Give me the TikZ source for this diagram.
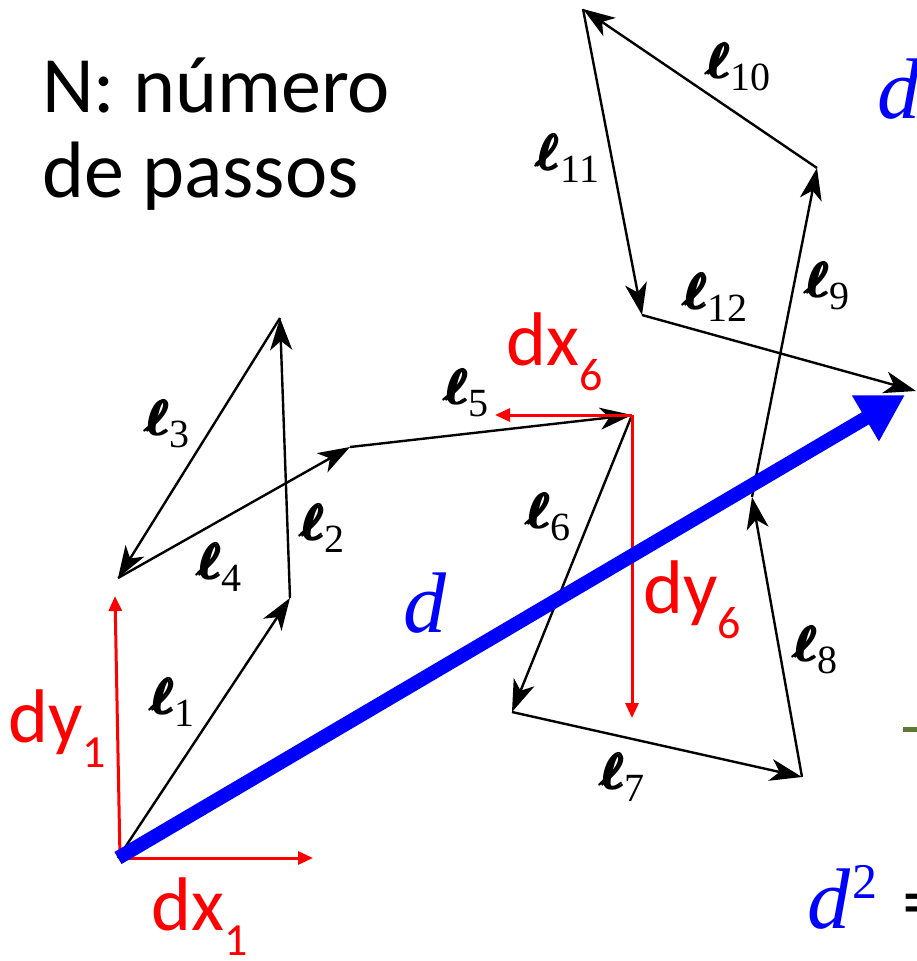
\documentclass[tikz,border=0pt]{standalone}
\usepackage{fontspec}
\usepackage{amsmath}
\usepackage{graphicx}
\usetikzlibrary{arrows.meta}
\newfontfamily\carlito{Carlito}
\newfontfamily\tms{Liberation Serif}
\definecolor{olivedash}{RGB}{95,120,55}
\newcommand{\ellab}[1]{\scalebox{5}{$\pmb{\boldsymbol{\ell}}$\raisebox{-2.4pt}{\tms\fontsize{8}{8}\selectfont #1}}}
\newcommand{\redsub}[2]{#1\raisebox{-25pt}{\fontsize{46}{46}\selectfont #2}}
\begin{document}
\begin{tikzpicture}[x=1pt,y=-1pt,
  blk/.style={line width=2.4pt, -{Stealth[length=32pt,width=22pt,inset=9pt]}},
  redarr/.style={red, line width=3pt, -{Triangle[length=15pt,width=13pt]}},
  bluearr/.style={blue, line width=14pt, -{Triangle[length=46pt,width=50pt]}},
  lbl/.style={inner sep=0pt},
  txt/.style={inner sep=0pt, anchor=base west, font=\carlito\fontsize{80}{85}\selectfont},
  redtxt/.style={inner sep=0pt, anchor=base west, text=red, font=\carlito\fontsize{76}{80}\selectfont},
  bluetxt/.style={inner sep=0pt, anchor=base west, text=blue, font=\tms\itshape\fontsize{86}{90}\selectfont}]
\useasboundingbox (0,0) rectangle (917,961);
\clip (0,0) rectangle (917,961);
% walk points
\coordinate (p0) at (118,858);
\coordinate (p1) at (290,598);
\coordinate (p2) at (280,318);
\coordinate (p3) at (118,578);
\coordinate (p4) at (350,447);
\coordinate (p5) at (632,415);
\coordinate (p6) at (512,712);
\coordinate (p7) at (802,777);
\coordinate (p8) at (752,497);
\coordinate (p9) at (817,168);
\coordinate (p10) at (583,9);
\coordinate (p11) at (642,315);
\coordinate (p12) at (916,391);
% walk
\draw[blk] (p0) -- (p1);
\draw[blk] (p1) -- (p2);
\draw[blk] (p2) -- (p3);
\draw[blk] (p3) -- (p4);
\draw[blk] (p4) -- (p5);
\draw[blk] (p5) -- (p6);
\draw[blk] (p6) -- (p7);
\draw[blk] (p7) -- (p8);
\draw[blk] (p8) -- (p9);
\draw[blk] (p9) -- (p10);
\draw[blk] (p10) -- (p11);
\draw[blk] (p11) -- (p12);
% red components
\coordinate (r0) at (120,858);
\coordinate (dy1end) at (115,596);
\coordinate (dx1end) at (313,858);
\coordinate (r6) at (632,415);
\coordinate (dx6end) at (495,415);
\coordinate (dy6end) at (632,718);
\draw[redarr] (r0) -- (dy1end);
\draw[redarr] (r0) -- (dx1end);
\draw[redarr] (r6) -- (dx6end);
\draw[redarr] (r6) -- (dy6end);
% blue resultant
\coordinate (bend) at (905,395);
\draw[bluearr] (p0) -- (bend);
% step labels
\node[lbl] (l1) at (173,702) {\ellab{1}};
\node[lbl] (l2) at (323,528) {\ellab{2}};
\node[lbl] (l3) at (168,424) {\ellab{3}};
\node[lbl] (l4) at (220,567) {\ellab{4}};
\node[lbl] (l5) at (467,393) {\ellab{5}};
\node[lbl] (l6) at (549,517) {\ellab{6}};
\node[lbl] (l7) at (623,777) {\ellab{7}};
\node[lbl] (l8) at (816,650) {\ellab{8}};
\node[lbl] (l9) at (828,286) {\ellab{9}};
\node[lbl] (l10) at (739,67) {\ellab{10}};
\node[lbl] (l11) at (568,158) {\ellab{11}};
\node[lbl] (l12) at (716,297) {\ellab{12}};
% texts
\node[txt] (t1) at (42,112) {N: número};
\node[txt] (t2) at (42,197) {de passos};
\node[redtxt] (dx6) at (506,365) {\redsub{dx}{6}};
\node[redtxt] (dy1) at (8,742) {\redsub{dy}{1}};
\node[redtxt] (dx1) at (151,930) {\redsub{dx}{1}};
\node[redtxt] (dy6) at (643,613) {\redsub{dy}{6}};
\node[bluetxt] (dmid) at (403,632) {d};
\node[bluetxt] (dtop) at (877,118) {d};
\node[bluetxt] (dsq) at (807,928) {d\kern2pt\raisebox{30pt}{\upshape\fontsize{50}{50}\selectfont 2}};
\node[txt] (eq) at (902,928) {=};
\fill[olivedash] (903,727) rectangle (917,732);
\end{tikzpicture}
\end{document}
